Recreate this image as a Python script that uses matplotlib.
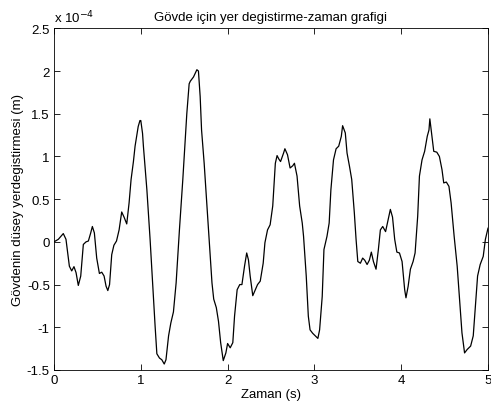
import matplotlib
matplotlib.use("Agg")
import matplotlib.pyplot as plt
from matplotlib.ticker import FuncFormatter

plt.rcParams['font.family'] = ['Liberation Sans', 'DejaVu Sans']
plt.rcParams['axes.unicode_minus'] = False

# Time (s)
zaman = [0.0, 0.05, 0.107, 0.138, 0.177, 0.204, 0.23, 0.254, 0.28, 0.308, 0.338, 0.369, 0.396,
         0.423, 0.442, 0.465, 0.492, 0.523, 0.55, 0.577, 0.6, 0.62, 0.64, 0.665, 0.69, 0.72,
         0.75, 0.78, 0.807, 0.838, 0.865, 0.888, 0.915, 0.934, 0.97, 0.99, 1.0, 1.02, 1.03, 1.07,
         1.107, 1.138, 1.165, 1.185, 1.215, 1.242, 1.27, 1.29, 1.32, 1.346, 1.376, 1.407,
         1.445, 1.484, 1.51, 1.53, 1.557, 1.57, 1.607, 1.646, 1.664, 1.684, 1.70, 1.73, 1.76,
         1.79, 1.82, 1.84, 1.87, 1.895, 1.92, 1.95, 1.98, 2.00, 2.03, 2.06, 2.08, 2.11, 2.14,
         2.165, 2.195, 2.22, 2.24, 2.26, 2.29, 2.32, 2.345, 2.376, 2.41, 2.43, 2.46, 2.49,
         2.52, 2.55, 2.57, 2.59, 2.61, 2.645, 2.66, 2.69, 2.72, 2.75, 2.77, 2.80, 2.83, 2.86,
         2.875, 2.906, 2.93, 2.95, 2.98, 3.01, 3.04, 3.06, 3.09, 3.11, 3.145, 3.17, 3.19,
         3.22, 3.25, 3.28, 3.31, 3.325, 3.356, 3.376, 3.405, 3.43, 3.46, 3.48, 3.50, 3.53,
         3.556, 3.58, 3.607, 3.633, 3.656, 3.68, 3.71, 3.737, 3.76, 3.787, 3.82, 3.845,
         3.875, 3.90, 3.925, 3.95, 3.98, 4.01, 4.04, 4.055, 4.08, 4.106, 4.137, 4.16, 4.19,
         4.21, 4.24, 4.27, 4.30, 4.32, 4.33, 4.375, 4.41, 4.44, 4.47, 4.49, 4.52, 4.55,
         4.575, 4.61, 4.645, 4.675, 4.70, 4.73, 4.76, 4.80, 4.83, 4.855, 4.88, 4.91, 4.945,
         4.97, 5.0]

# Vertical displacement (x 1e-4 m)
yerdegistirme = [0.0, 0.03, 0.097, 0.03, -0.285, -0.34, -0.29, -0.36, -0.51, -0.40, -0.03, 0.0,
                 0.01, 0.105, 0.18, 0.105, -0.19, -0.37, -0.355, -0.40, -0.52, -0.57, -0.50,
                 -0.15, -0.04, 0.01, 0.14, 0.35, 0.29, 0.21, 0.456, 0.73, 0.94, 1.12, 1.35,
                 1.42, 1.42, 1.27, 1.12, 0.61, 0.03, -0.52, -0.99, -1.31, -1.36, -1.38, -1.43,
                 -1.38, -1.10, -0.95, -0.82, -0.48, 0.14, 0.73, 1.16, 1.50, 1.85, 1.88, 1.93,
                 2.015, 2.0, 1.70, 1.31, 0.92, 0.456, -0.01, -0.48, -0.67, -0.77, -0.93, -1.18,
                 -1.39, -1.30, -1.19, -1.24, -1.18, -0.87, -0.56, -0.50, -0.50, -0.285, -0.13,
                 -0.21, -0.40, -0.63, -0.56, -0.50, -0.46, -0.25, -0.01, 0.14, 0.20, 0.42, 0.92,
                 1.01, 0.97, 0.94, 1.04, 1.09, 1.02, 0.865, 0.89, 0.92, 0.77, 0.42, 0.22, 0.065,
                 -0.40, -0.87, -1.03, -1.07, -1.10, -1.13, -1.03, -0.64, -0.09, 0.065, 0.22,
                 0.61, 0.96, 1.09, 1.12, 1.235, 1.36, 1.275, 1.04, 0.88, 0.73, 0.34, 0.03, -0.23,
                 -0.25, -0.19, -0.215, -0.265, -0.215, -0.12, -0.23, -0.32, -0.09, 0.14, 0.18,
                 0.12, 0.24, 0.38, 0.29, 0.03, -0.12, -0.13, -0.23, -0.56, -0.655, -0.52, -0.32,
                 -0.23, -0.13, 0.30, 0.77, 0.96, 1.06, 1.235, 1.31, 1.44, 1.06, 1.05, 1.00, 0.845,
                 0.69, 0.70, 0.65, 0.456, 0.065, -0.285, -0.71, -1.065, -1.30, -1.26, -1.22,
                 -1.10, -0.75, -0.40, -0.265, -0.17, 0.03, 0.16]

x_ticks = [0, 1, 2, 3, 4, 5]
y_ticks = [-1.5, -1, -0.5, 0, 0.5, 1, 1.5, 2, 2.5]

fig = plt.figure(figsize=(4.91, 4.14), dpi=100)
ax = fig.add_axes([54 / 491, 43 / 414, 434 / 491, 341.7 / 414])
ax.plot(zaman, yerdegistirme, color='black', lw=0.9)
ax.set_xlim(0, 5)
ax.set_ylim(-1.5, 2.5)
ax.set_xticks(x_ticks)
ax.set_yticks(y_ticks)
ax.yaxis.set_major_formatter(FuncFormatter(lambda v, p: '%g' % v))
ax.xaxis.set_major_formatter(FuncFormatter(lambda v, p: '%g' % v))
ax.tick_params(direction='in', length=4, width=0.6, top=True, right=True,
               labelsize=9.5, pad=3, colors='black')
for s in ax.spines.values():
    s.set_linewidth(0.6)

ax.set_title('Gövde için yer degistirme-zaman grafigi', fontsize=9.5, pad=6)
ax.set_xlabel('Zaman (s)', fontsize=9.5, labelpad=1)
ax.set_ylabel('Gövdenin düsey yerdegistirmesi (m)', fontsize=9.5, labelpad=2)
ax.text(0.0, 1.008, r'x 10$^{-4}$', transform=ax.transAxes, fontsize=9.5,
        ha='left', va='bottom')

fig.savefig('out.png', dpi=100)
